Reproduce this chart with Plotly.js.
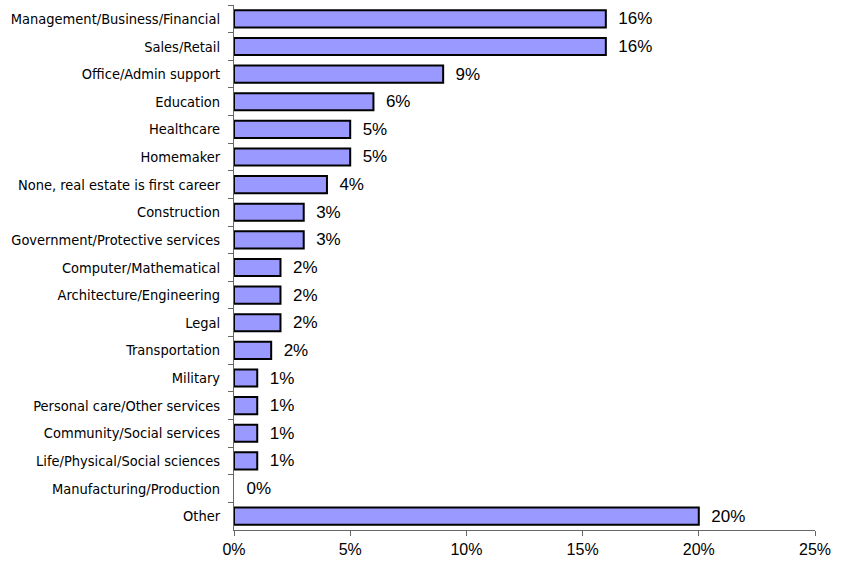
<!DOCTYPE html>
<html><head><meta charset="utf-8">
<script src="https://cdn.plot.ly/plotly-3.0.1.min.js"></script>
<style>html,body{margin:0;padding:0;background:#fff}</style>
</head><body>
<div id="chart" style="width:849px;height:561px"></div>
<script>
const categories = [
  "Management/Business/Financial","Sales/Retail","Office/Admin support","Education",
  "Healthcare","Homemaker","None, real estate is first career","Construction",
  "Government/Protective services","Computer/Mathematical","Architecture/Engineering",
  "Legal","Transportation","Military","Personal care/Other services",
  "Community/Social services","Life/Physical/Social sciences","Manufacturing/Production","Other"
];
const values = [16,16,9,6,5,5,4,3,3,2,2,2,1.6,1,1,1,1,0,20];
const valueLabels = ["16%","16%","9%","6%","5%","5%","4%","3%","3%","2%","2%","2%","2%","1%","1%","1%","1%","0%","20%"];
const xTicks = [0,5,10,15,20,25];
const xTickLabels = ["0%","5%","10%","15%","20%","25%"];

const trace = {
  type: 'bar', orientation: 'h',
  y: categories, x: values,
  text: valueLabels.map(s => '\u00a0\u00a0' + s),
  textposition: 'outside', cliponaxis: false, constraintext: 'none',
  textfont: {family: 'Liberation Sans, Arial, sans-serif', size: 17, color: '#000'},
  marker: {color: '#9999ff', line: {color: '#000', width: values.map(v => v > 0 ? 2 : 0)}},
  hoverinfo: 'none'
};
const layout = {
  width: 849, height: 561,
  margin: {l: 234, r: 34, t: 5, b: 31},
  paper_bgcolor: '#fff', plot_bgcolor: '#fff',
  showlegend: false, bargap: 0.38,
  font: {family: 'Liberation Sans, Arial, sans-serif', color: '#000'},
  xaxis: {range: [0, 25], tickvals: xTicks, ticktext: xTickLabels,
    ticks: 'outside', ticklen: 5, tickcolor: '#666', showgrid: false, zeroline: false,
    showline: true, linecolor: '#666', linewidth: 1, tickfont: {size: 16}},
  yaxis: {autorange: 'reversed', type: 'category', ticks: 'outside', tickson: 'boundaries',
    ticklen: 5, tickcolor: '#666', showgrid: false, zeroline: false, showline: true,
    linecolor: '#666', linewidth: 1,
    tickfont: {size: 14.5, family: 'DejaVu Sans Condensed, Liberation Sans, sans-serif'},
    ticklabelstandoff: 10}
};
Plotly.newPlot('chart', [trace], layout, {displayModeBar: false, staticPlot: true});
</script>
</body></html>
